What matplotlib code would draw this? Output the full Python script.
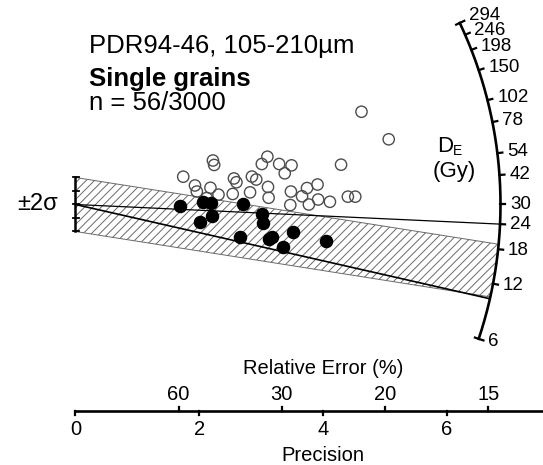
import numpy as np
import matplotlib
matplotlib.use("Agg")
import matplotlib.pyplot as plt

plt.rcParams["font.family"] = ["Liberation Sans", "DejaVu Sans"]
plt.rcParams["hatch.linewidth"] = 0.7

# grains: precision (1/sigma) and standardised estimate
open_x = [4.62, 5.06, 2.22, 2.24, 3.10, 3.01, 3.29, 3.49, 3.38, 4.29,
          1.74, 1.93, 1.96, 2.18, 2.56, 2.60, 2.85, 2.92, 3.11, 2.31,
          2.54, 2.82, 3.12, 3.48, 3.74, 3.91, 3.66, 3.92, 4.11, 3.77,
          3.47, 4.40, 4.52, 2.12]
open_y = [6.87, 4.83, 3.26, 2.93, 3.54, 3.00, 3.00, 2.90, 2.31, 2.95,
          2.06, 1.41, 0.96, 1.24, 1.93, 1.65, 2.07, 1.85, 1.30, 0.73,
          0.78, 0.90, 0.50, 0.96, 1.22, 1.48, 0.61, 0.37, 0.20, 0.00,
          -0.04, 0.58, 0.58, 0.48]
filled_x = [1.69, 2.06, 2.19, 2.21, 2.01, 2.71, 3.01, 3.03, 2.65, 3.12,
            3.17, 3.51, 3.36, 4.05]
filled_y = [-0.09, 0.15, 0.11, -0.85, -1.33, 0.04, -0.67, -1.37, -2.39, -2.54,
            -2.39, -2.02, -3.13, -2.70]

arc_ticks = [6, 12, 18, 24, 30, 42, 54, 78, 102, 150, 198, 246, 294]
re_ticks = [60, 30, 20, 15]
prec_ticks = [0, 2, 4, 6]
ref_dose = 30.0
line_doses = [24, 10]
line_widths = [0.9, 1.2]
band_dose = 14.0

# -----------------------
# GEOMETRY (pixels)
# -----------------------
W, H, DPI = 543, 465, 100
X0_PX, Y0_PX = 75.5, 204.5   # origin, from top-left
SX, SY = 61.9, 13.5          # px per precision unit / per standardised unit
R_PX = 425.0                 # radius of the dose arc
K = 0.207                    # angular scale of the dose arc
AXIS_PY = 410.7


def py_to_y(py):
    return (Y0_PX - py) / SY


def px_to_x(px):
    return (px - X0_PX) / SX


def arc_angle(d):
    return np.arctan(K * np.log(np.asarray(d, dtype=float) / ref_dose))


def polar(theta, r_px):
    return r_px * np.cos(theta) / SX, r_px * np.sin(theta) / SY


def edge_hit(m, c):
    # where the line y = m x + c meets the arc
    a = SX ** 2 + (SY * m) ** 2
    b = 2 * SY ** 2 * m * c
    cc = (SY * c) ** 2 - R_PX ** 2
    x = (-b + np.sqrt(b * b - 4 * a * cc)) / (2 * a)
    return x, m * x + c


fig = plt.figure(figsize=(W / DPI, H / DPI), dpi=DPI)
ax = fig.add_axes([0, 0, 1, 1])
ax.set_xlim(px_to_x(0), px_to_x(W))
ax.set_ylim(py_to_y(H), py_to_y(0))
ax.axis("off")

# -----------------------
# +-2 sigma BAND
# -----------------------
m = np.tan(arc_angle(band_dose)) * SX / SY
xu, yu = edge_hit(m, 2.0)
xl, yl = edge_hit(m, -2.0)
tu = np.arctan2(SY * yu, SX * xu)
tl = np.arctan2(SY * yl, SX * xl)
tt = np.linspace(tu, tl, 30)
ax_, ay_ = polar(tt, R_PX)
bx = np.concatenate([[0], ax_, [0]])
by = np.concatenate([[2.0], ay_, [-2.0]])
ax.fill(bx, by, facecolor="white", edgecolor="#6a6a6a", hatch="////",
        lw=0.7, zorder=1)

# lines from the origin
for d, lw in zip(line_doses, line_widths):
    ex, ey = polar(arc_angle(d), R_PX)
    ax.plot([0, ex], [0, ey], color="black", lw=lw, zorder=2)

# +-2 sigma bar
ax.plot([0, 0], [-2, 2], color="black", lw=1.8, zorder=3)
for v in [-2, -1, 0, 1, 2]:
    ax.plot([px_to_x(X0_PX - 2), px_to_x(X0_PX + 4)], [v, v], color="black",
            lw=1.3, zorder=3)
ax.text(px_to_x(58), 0, "±2σ", ha="right", va="center", fontsize=17)

# -----------------------
# POINTS
# -----------------------
ax.scatter(open_x, open_y, s=66, facecolors="none", edgecolors="#4d4d4d",
           linewidths=1.0, zorder=4)
ax.scatter(filled_x, filled_y, s=76, color="black", zorder=5)

# -----------------------
# DOSE ARC
# -----------------------
th = np.linspace(arc_angle(arc_ticks[0]), arc_angle(arc_ticks[-1]), 300)
ax.plot(*polar(th, R_PX), color="black", lw=1.9, zorder=6)
for i, d in enumerate(arc_ticks):
    t = arc_angle(d)
    r0 = R_PX - 4 if i in (0, len(arc_ticks) - 1) else R_PX
    p0 = polar(t, r0)
    p1 = polar(t, R_PX + 5)
    ax.plot([p0[0], p1[0]], [p0[1], p1[1]], color="black", lw=1.6, zorder=6)
    lx, ly = polar(t, R_PX + 10)
    if d == arc_ticks[-1]:
        ly += 3 / SY  # top two labels are crowded
    ax.text(lx, ly, str(d), ha="left", va="center", fontsize=13.5)

ax.text(px_to_x(437), py_to_y(152), "D", ha="left", va="baseline", fontsize=16)
ax.text(px_to_x(453), py_to_y(155), "E", ha="left", va="baseline", fontsize=10)
ax.text(px_to_x(454), py_to_y(171), "(Gy)", ha="center", va="center", fontsize=16)

# -----------------------
# PRECISION / RELATIVE ERROR AXIS
# -----------------------
y_ax = py_to_y(AXIS_PY)
ax.plot([0, px_to_x(W)], [y_ax, y_ax], color="black", lw=1.9, zorder=6)
tick_len = 4 / SY
for p in prec_ticks:
    ax.plot([p, p], [y_ax, y_ax - tick_len], color="black", lw=1.6)
    ax.text(p, py_to_y(420), str(p), ha="center", va="top", fontsize=14.5)
for re in re_ticks:
    p = 100.0 / re
    ax.plot([p, p], [y_ax, y_ax + tick_len], color="black", lw=1.6)
    ax.text(p, py_to_y(395), str(re), ha="center", va="center", fontsize=14.5)
ax.text(4.0, py_to_y(368), "Relative Error (%)", ha="center", va="center",
        fontsize=14.5)
ax.text(4.0, py_to_y(455), "Precision", ha="center", va="center", fontsize=14.5)

# -----------------------
# LABELS
# -----------------------
tx = px_to_x(89)
ax.text(tx, py_to_y(53), "PDR94-46, 105-210µm", ha="left", va="baseline",
        fontsize=18.5)
ax.text(tx, py_to_y(86), "Single grains", ha="left", va="baseline",
        fontsize=18.5, fontweight="bold")
ax.text(tx, py_to_y(110), "n = 56/3000", ha="left", va="baseline", fontsize=18.5)

fig.savefig("out.png", dpi=DPI)
